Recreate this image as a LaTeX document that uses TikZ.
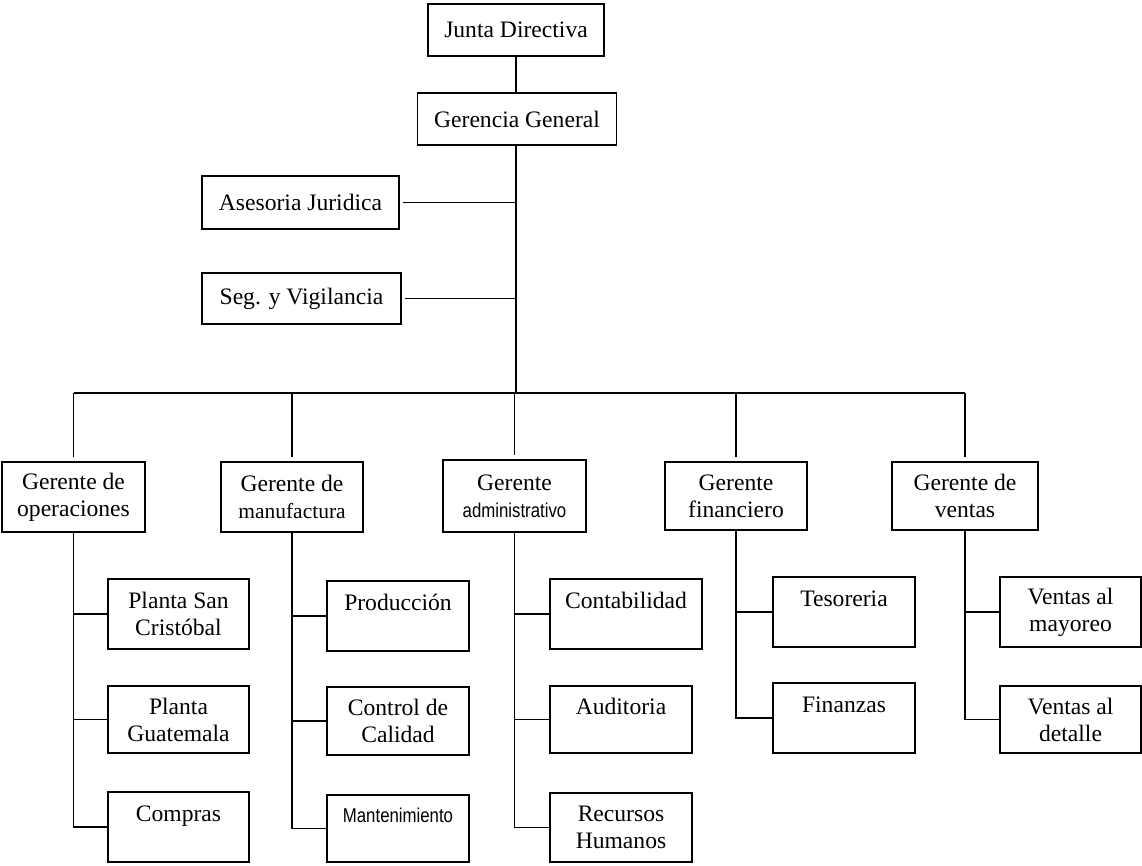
\documentclass[tikz,border=0pt]{standalone}
\usepackage{fontspec}
\setmainfont{Liberation Serif}
\newfontfamily\narrowsans[FakeStretch=0.84]{Liberation Sans}
\newcommand\orgfont{\fontsize{23.6}{27}\selectfont}
\newcommand\smallsans{\narrowsans\fontsize{20}{27}\selectfont}
\tikzset{
  box/.style={draw, line width=1.8pt, inner sep=0pt, outer sep=0pt, align=center, font=\orgfont},
  sz/.style 2 args={minimum width=#1pt, minimum height=#2pt},
  link/.style={line width=1.8pt},
}
\begin{document}
\begin{tikzpicture}[x=1pt, y=-1pt]
\useasboundingbox (0,0) rectangle (1142,865);

% top management
\node[box, sz={176}{52}] (junta) at (516,30) {Junta Directiva};
\node[box, sz={199}{52}] (gerencia) at (517,119) {Gerencia General};
\node[box, sz={197}{53}] (asesoria) at (300.5,202.5) {Asesoria Juridica};
\node[box, sz={199}{51}] (seg) at (301.5,298.5) {Seg. y Vigilancia};
\coordinate (bus) at (516,393);

% department managers
\node[box, sz={143}{70}] (oper) at (73.5,497) {Gerente de\\operaciones};
\node[box, sz={142}{70}] (manuf) at (292,497) {Gerente de\\{\fontsize{21.5}{27}\selectfont manufactura}};
\node[box, sz={143}{72}] (admin) at (514.5,496) {Gerente\\{\smallsans administrativo}};
\node[box, sz={142}{68}] (finan) at (736,496) {Gerente\\financiero};
\node[box, sz={146}{68}] (ventas) at (965,496) {Gerente de\\ventas};

% operaciones
\node[box, sz={141}{70}] (psc) at (178.5,614) {Planta San\\Cristóbal};
\node[box, sz={141}{67}] (pg) at (178.5,719.5) {Planta\\Guatemala};
\node[box, sz={141}{70}] (compras) at (178.5,827) {Compras\\\mbox{}};
% manufactura
\node[box, sz={142}{70}] (prod) at (398,616) {Producción\\\mbox{}};
\node[box, sz={142}{68}] (cc) at (398,721) {Control de\\Calidad};
\node[box, sz={142}{67}] (mant) at (398,828.5) {{\smallsans Mantenimiento}\\\mbox{}};
% administrativo
\node[box, sz={152}{70}] (cont) at (626,614) {Contabilidad\\\mbox{}};
\node[box, sz={142}{67}] (aud) at (621,719.5) {Auditoria\\\mbox{}};
\node[box, sz={142}{69}] (rh) at (621,827.5) {Recursos\\Humanos};
% financiero
\node[box, sz={142}{70}] (tes) at (844,612) {Tesoreria\\\mbox{}};
\node[box, sz={142}{70}] (fin) at (844,718) {Finanzas\\\mbox{}};
% ventas
\node[box, sz={141}{70}] (vmay) at (1070.5,612) {Ventas al\\mayoreo};
\node[box, sz={141}{67}] (vdet) at (1070.5,719.5) {Ventas al\\detalle};

% main trunk
\draw[link] (junta.south) -- (junta.south |- gerencia.north);
\draw[link] (gerencia.south -| bus) -- (bus);
\draw[link, shorten <=4pt] (asesoria.east) -- (asesoria.east -| bus);
\draw[link, shorten <=4pt] (seg.east) -- (seg.east -| bus);

% horizontal bus and drops
\draw[link] (oper.north |- bus) -- (ventas.north |- bus);
\foreach \d in {oper, manuf, admin, finan, ventas}
  \draw[link, shorten >=5pt] (\d.north |- bus) -- (\d.north);

% department branches
\draw[link] (oper.south) |- (compras.west);
\foreach \c in {psc, pg} \draw[link] (oper.south |- \c.west) -- (\c.west);
\draw[link] (manuf.south) |- (mant.west);
\foreach \c in {prod, cc} \draw[link] (manuf.south |- \c.west) -- (\c.west);
\draw[link] (admin.south) |- (rh.west);
\foreach \c in {cont, aud} \draw[link] (admin.south |- \c.west) -- (\c.west);
\draw[link] (finan.south) |- (fin.west);
\draw[link] (finan.south |- tes.west) -- (tes.west);
\draw[link] (ventas.south) |- (vdet.west);
\draw[link] (ventas.south |- vmay.west) -- (vmay.west);
\end{tikzpicture}
\end{document}
